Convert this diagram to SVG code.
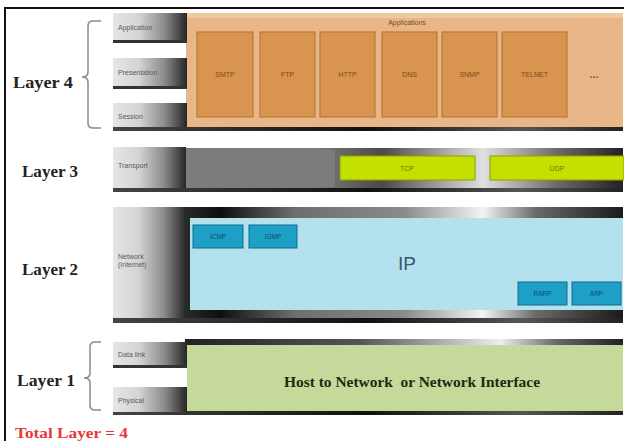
<svg xmlns="http://www.w3.org/2000/svg" width="624" height="441" viewBox="0 0 624 441">
<defs>
<linearGradient id="lbl" x1="0" y1="0" x2="1" y2="0">
<stop offset="0" stop-color="#e6e6e6"/>
<stop offset="0.35" stop-color="#d4d4d4"/>
<stop offset="0.7" stop-color="#8a8a8a"/>
<stop offset="1" stop-color="#262626"/>
</linearGradient>
<linearGradient id="shadow" x1="0" y1="0" x2="1" y2="0">
<stop offset="0" stop-color="#444"/>
<stop offset="0.5" stop-color="#111"/>
<stop offset="0.8" stop-color="#555"/>
<stop offset="1" stop-color="#222"/>
</linearGradient>
<linearGradient id="metal2" x1="0" y1="0" x2="1" y2="0">
<stop offset="0" stop-color="#2a2a2a"/>
<stop offset="0.08" stop-color="#0e0e0e"/>
<stop offset="0.25" stop-color="#6e6e6e"/>
<stop offset="0.5" stop-color="#8a8a8a"/>
<stop offset="0.68" stop-color="#f4f4f4"/>
<stop offset="0.8" stop-color="#6a6a6a"/>
<stop offset="1" stop-color="#1a1a1a"/>
</linearGradient>
<linearGradient id="metal3" x1="0" y1="0" x2="1" y2="0">
<stop offset="0" stop-color="#7a7a7a"/>
<stop offset="0.3" stop-color="#7a7a7a"/>
<stop offset="0.45" stop-color="#4a4a4a"/>
<stop offset="0.68" stop-color="#e0e0e0"/>
<stop offset="0.85" stop-color="#6a6a6a"/>
<stop offset="1" stop-color="#222"/>
</linearGradient>
<linearGradient id="metal1" x1="0" y1="0" x2="1" y2="0">
<stop offset="0" stop-color="#222"/>
<stop offset="0.4" stop-color="#555"/>
<stop offset="0.72" stop-color="#eee"/>
<stop offset="0.85" stop-color="#666"/>
<stop offset="1" stop-color="#222"/>
</linearGradient>
<style>
.lbl{fill:url(#lbl)}
.sh{fill:url(#shadow)}
.tiny{font-family:"Liberation Sans",Arial,sans-serif;font-size:7px;fill:#5a5a5a}
.lay{font-family:"Liberation Serif","Times New Roman",serif;font-size:16px;font-weight:bold;fill:#222}
.app{fill:#d9944f;stroke:#b77a3c;stroke-width:1.2}
.pname{font-family:"Liberation Sans",Arial,sans-serif;font-size:7px;fill:#7a4a20;text-anchor:middle}
.blue{fill:#1d9fc6;stroke:#0b6f8e;stroke-width:1}
.bname{font-family:"Liberation Sans",Arial,sans-serif;font-size:6.5px;fill:#0b4f6a;text-anchor:middle}
.green{fill:#c4e000;stroke:#8ca000;stroke-width:1}
.gname{font-family:"Liberation Sans",Arial,sans-serif;font-size:7px;fill:#667a00;text-anchor:middle}
.brace{fill:none;stroke:#8a8a8a;stroke-width:1.5}
</style>
</defs>
<rect x="0" y="0" width="624" height="441" fill="#ffffff"/>
<rect x="5" y="8" width="640" height="460" fill="none" stroke="#111" stroke-width="2"/>

<g id="layer4">
<rect x="113" y="122" width="510" height="9" class="sh"/>
<rect x="186" y="13" width="437" height="114" fill="#e8b687"/>
<rect x="186" y="13" width="437" height="5" fill="#f0c9a3"/>
<text x="407" y="25" class="pname" fill="#7a5a40">Applications</text>
<g id="smtp"><rect x="197" y="32" width="56" height="85" class="app"/><text x="225" y="77" class="pname">SMTP</text></g>
<g id="ftp"><rect x="260" y="32" width="55" height="85" class="app"/><text x="287.5" y="77" class="pname">FTP</text></g>
<g id="http"><rect x="320" y="32" width="55" height="85" class="app"/><text x="347.5" y="77" class="pname">HTTP</text></g>
<g id="dns"><rect x="382" y="32" width="55" height="85" class="app"/><text x="409.5" y="77" class="pname">DNS</text></g>
<g id="snmp"><rect x="442" y="32" width="55" height="85" class="app"/><text x="469.5" y="77" class="pname">SNMP</text></g>
<g id="telnet"><rect x="502" y="32" width="65" height="85" class="app"/><text x="534.5" y="77" class="pname">TELNET</text></g>
<text x="594" y="78" font-family="'Liberation Sans',Arial,sans-serif" font-size="11" font-weight="bold" fill="#8a5a30" text-anchor="middle">...</text>
<g id="application"><rect x="113" y="38" width="74" height="5" fill="#333"/><rect x="113" y="13" width="74" height="27" class="lbl"/><text x="118" y="30" class="tiny">Application</text></g>
<g id="presentation"><rect x="113" y="84" width="74" height="5" fill="#333"/><rect x="113" y="58" width="74" height="28" class="lbl"/><text x="118" y="75" class="tiny">Presentation</text></g>
<g id="session"><rect x="113" y="103" width="74" height="24" class="lbl"/><text x="118" y="119" class="tiny">Session</text></g>
<text x="13" y="88" class="lay" textLength="60" lengthAdjust="spacingAndGlyphs">Layer 4</text>
</g>

<g id="layer3">
<rect x="113" y="186" width="510" height="6" class="sh"/>
<rect x="185" y="148" width="438" height="40" fill="url(#metal3)"/>
<rect x="185" y="150" width="150" height="37" fill="#7c7c7c"/>
<g id="transport"><rect x="113" y="147" width="73" height="41" class="lbl"/><text x="118" y="168" class="tiny">Transport</text></g>
<g id="tcp"><rect x="340" y="156" width="135" height="24" class="green"/><text x="407" y="171" class="gname">TCP</text></g>
<g id="udp"><rect x="490" y="156" width="134" height="24" class="green"/><text x="557" y="171" class="gname">UDP</text></g>
<text x="22" y="177" class="lay" textLength="56" lengthAdjust="spacingAndGlyphs">Layer 3</text>
</g>

<g id="layer2">
<rect x="113" y="316" width="510" height="7" class="sh"/>
<rect x="185" y="207" width="438" height="111" fill="url(#metal2)"/>
<rect x="190" y="218" width="433" height="92" fill="#b4e1ee"/>
<g id="network"><rect x="113" y="207" width="73" height="111" class="lbl"/><text x="118" y="259" class="tiny">Network</text><text x="118" y="267" class="tiny">(Internet)</text></g>
<g id="icmp"><rect x="193" y="225" width="50" height="23" class="blue"/><text x="218" y="239" class="bname">ICMP</text></g>
<g id="igmp"><rect x="249" y="225" width="48" height="23" class="blue"/><text x="273" y="239" class="bname">IGMP</text></g>
<g id="rarp"><rect x="518" y="282" width="49" height="23" class="blue"/><text x="542.5" y="296" class="bname">RARP</text></g>
<g id="arp"><rect x="572" y="282" width="49" height="23" class="blue"/><text x="596.5" y="296" class="bname">ARP</text></g>
<text x="407" y="270" font-family="'Liberation Sans',Arial,sans-serif" font-size="19" fill="#3d5566" text-anchor="middle">IP</text>
<text x="22" y="275" class="lay" textLength="56" lengthAdjust="spacingAndGlyphs">Layer 2</text>
</g>

<g id="layer1">
<rect x="113" y="409" width="510" height="6" class="sh"/>
<rect x="185" y="339" width="438" height="8" fill="url(#metal1)"/>
<rect x="187" y="345" width="436" height="66" fill="#c5d99b"/>
<g id="datalink"><rect x="113" y="363" width="74" height="5" fill="#333"/><rect x="113" y="342" width="74" height="23" class="lbl"/><text x="118" y="357" class="tiny">Data link</text></g>
<g id="physical"><rect x="113" y="387" width="74" height="25" class="lbl"/><text x="118" y="403" class="tiny">Physical</text></g>
<text x="412" y="387" font-family="'Liberation Serif','Times New Roman',serif" font-size="15" font-weight="bold" fill="#1e2a10" text-anchor="middle" textLength="256" lengthAdjust="spacingAndGlyphs" xml:space="preserve">Host to Network  or Network Interface</text>
<text x="17" y="386" class="lay" textLength="58" lengthAdjust="spacingAndGlyphs">Layer 1</text>
</g>

<g id="connectors">
<path class="brace" d="M101,21 H93 Q88,21 88,26 V72 Q88,77 82,77 Q88,77 88,82 V123 Q88,128 93,128 H101"/>
<path class="brace" d="M101,342 H95 Q90,342 90,347 V373 Q90,378 84,378 Q90,378 90,383 V405 Q90,410 95,410 H101"/>
</g>

<text x="15" y="438" font-family="'Liberation Serif','Times New Roman',serif" font-size="14" font-weight="bold" fill="#e8373a" textLength="113" lengthAdjust="spacingAndGlyphs">Total Layer = 4</text>
</svg>
